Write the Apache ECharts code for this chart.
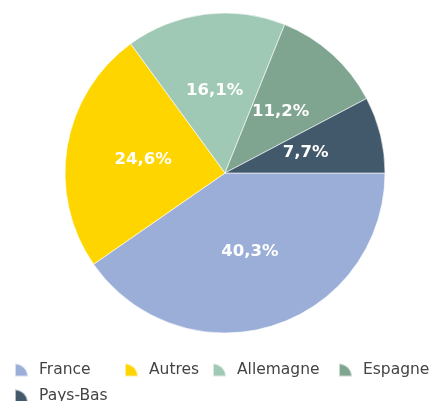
<!DOCTYPE html>
<html>
<head>
<meta charset="utf-8">
<script src="https://cdn.jsdelivr.net/npm/echarts@6/dist/echarts.min.js"></script>
<style>
  html, body { margin: 0; padding: 0; background: #fff; }
  #main { width: 433px; height: 401px; }
</style>
</head>
<body>
<div id="main"></div>
<script>
var names = ['France', 'Autres', 'Allemagne', 'Espagne', 'Pays-Bas'];
var shares = [40.3, 24.6, 16.1, 11.2, 7.7];
var colors = ['#9aaed8', '#ffd500', '#a0c9b5', '#7fa490', '#42586b'];

// where each legend entry sits (left, top) - the original lays them out unevenly
var legendSpots = [[14, 362], [124, 362], [212, 362], [338, 362], [14, 388]];

var chart = echarts.init(document.getElementById('main'), null, { renderer: 'canvas' });

var legends = names.map(function (n, i) {
    return {
        left: legendSpots[i][0],
        top: legendSpots[i][1],
        padding: 0,
        itemWidth: 13,
        itemHeight: 13,
        icon: 'path://M0,0 A1,1 0 0,1 1,1 L0,1 Z',
        textStyle: {
            fontFamily: 'DejaVu Sans',
            fontSize: 15.5,
            color: '#444',
            padding: [0, 0, 0, 6]
        },
        data: [n]
    };
});

var option = {
    animation: false,
    color: colors,
    legend: legends,
    series: [{
        type: 'pie',
        center: [225, 173],
        radius: [0, 160],
        startAngle: 0,
        clockwise: true,
        itemStyle: {
            borderColor: 'rgba(255,255,255,0.6)',
            borderWidth: 1
        },
        label: {
            show: true,
            position: 'inside',
            color: '#fff',
            fontFamily: 'DejaVu Sans',
            fontWeight: 'bold',
            fontSize: 16.5,
            formatter: function (p) {
                return String(p.value).replace('.', ',') + '%';
            }
        },
        labelLine: { show: false },
        emphasis: { disabled: true },
        data: names.map(function (n, i) {
            return { name: n, value: shares[i] };
        })
    }]
};

chart.setOption(option);
</script>
</body>
</html>
